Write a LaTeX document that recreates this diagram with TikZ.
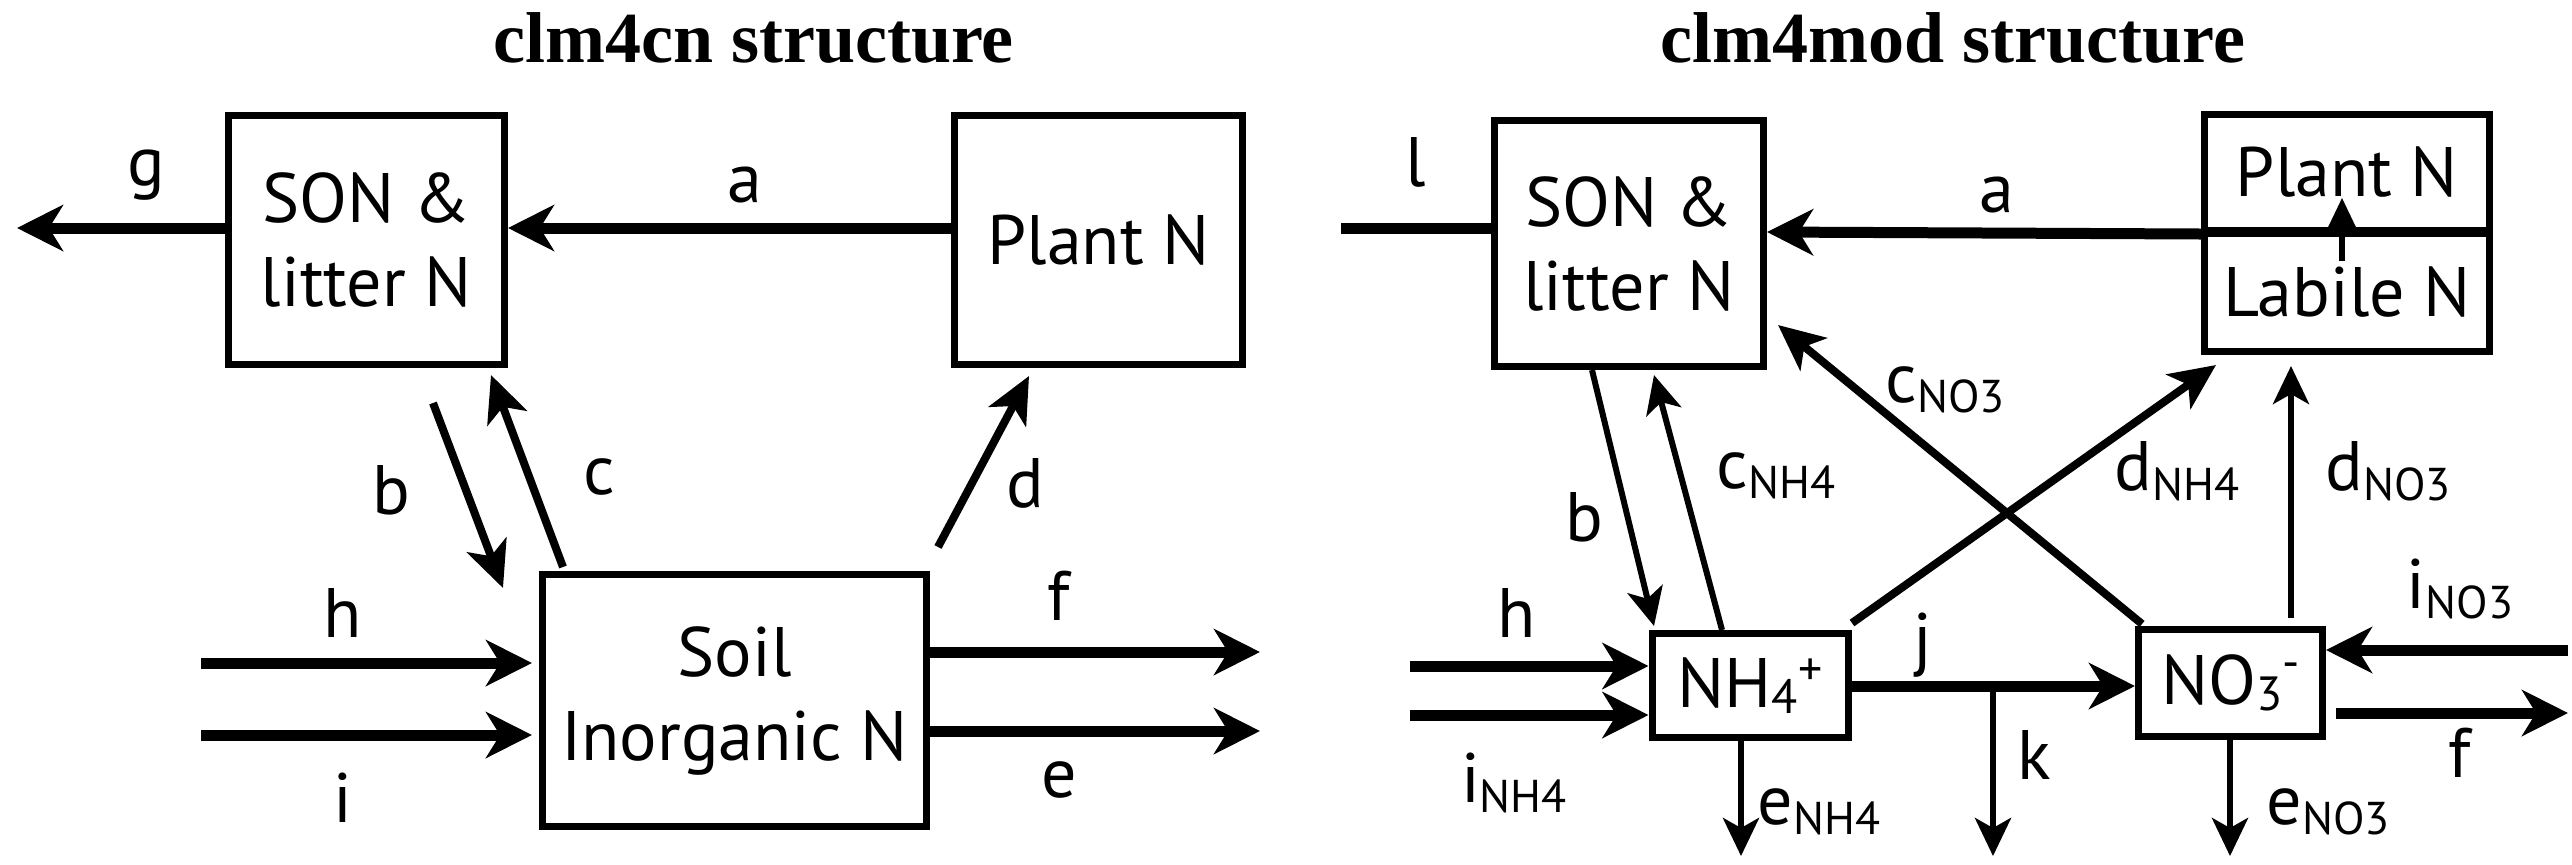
\documentclass[tikz,border=0pt]{standalone}
\usepackage{fontspec}
\setmainfont{PT Sans}
\newfontfamily\titlefont{Liberation Serif}
\usetikzlibrary{arrows.meta}
\newcommand{\sublab}[2]{#1\raisebox{-5pt}{\fontsize{23}{23}\selectfont #2}}
\tikzset{
  box/.style={draw, line width=3.5pt, inner sep=0pt, align=center, font=\fontsize{35}{42}\selectfont},
  lab/.style={inner sep=0pt, font=\fontsize{35}{40}\selectfont},
  ttl/.style={inner sep=0pt, anchor=base, font=\titlefont\bfseries\fontsize{36}{42}\selectfont},
  fatarrow/.style={line width=5.5pt, -{Stealth[length=23pt,width=23pt,inset=7pt]}},
  midarrow/.style={line width=4pt, -{Stealth[length=23pt,width=21pt,inset=6pt]}},
  thinarrow/.style={line width=3pt, -{Stealth[length=19pt,width=18pt,inset=5pt]}},
  fatline/.style={line width=5.5pt},
}
\begin{document}
\begin{tikzpicture}[x=0.5pt,y=-0.5pt]
\useasboundingbox (0,0) rectangle (2572,864);
% titles
\node[ttl] (t1) at (753.5,62) {clm4cn structure};
\node[ttl] (t2) at (1953,62) {clm4mod structure};
% ---------- left panel ----------
\node[box, minimum width=138pt, minimum height=124.5pt] (son) at (366.5,240) {SON \&\\litter N};
\node[box, minimum width=144pt, minimum height=124.5pt] (plant) at (1098.5,240) {Plant N};
\node[box, minimum width=192pt, minimum height=126pt] (soil) at (734.5,700.5) {Soil\\Inorganic N};
\coordinate (ya) at (0,228);
\draw[fatarrow] (plant.west |- ya) -- (son.east |- ya);
\coordinate (gEnd) at (17,228);
\draw[fatarrow] (son.west |- gEnd) -- (gEnd);
\coordinate (b1) at (433,403); \coordinate (b2) at (503,588);
\draw[midarrow] (b1) -- (b2);
\coordinate (c1) at (563,567); \coordinate (c2) at (491,375);
\draw[midarrow] (c1) -- (c2);
\coordinate (d1) at (938,547); \coordinate (d2) at (1029,376);
\draw[midarrow] (d1) -- (d2);
\coordinate (h1) at (201,663); \coordinate (h2) at (532,663);
\draw[fatarrow] (h1) -- (h2);
\coordinate (i1) at (201,735); \coordinate (i2) at (532,735);
\draw[fatarrow] (i1) -- (i2);
\coordinate (f2) at (1260,652);
\draw[fatarrow] (soil.east |- f2) -- (f2);
\coordinate (e2) at (1260,731);
\draw[fatarrow] (soil.east |- e2) -- (e2);
\node[lab] (la) at (745,185) {a};
\node[lab] (lg) at (146,175) {g};
\node[lab] (lb) at (391,490) {b};
\node[lab] (lc) at (599,477) {c};
\node[lab] (ld) at (1025,483) {d};
\node[lab] (lh) at (343,613) {h};
\node[lab] (li) at (343,798) {i};
\node[lab] (lf) at (1059,596) {f};
\node[lab] (le) at (1059,780) {e};
% ---------- right panel ----------
\node[box, minimum width=134.5pt, minimum height=123pt] (son2) at (1629,243.5) {SON \&\\litter N};
\node[box, minimum width=142.5pt, minimum height=58pt] (plant2) at (2347,172.5) {Plant N};
\node[box, minimum width=142.5pt, minimum height=59pt] (labile) at (2347,292.5) {Labile N};
\node[box, minimum width=98pt, minimum height=52pt] (nh4) at (1750,685.5)
  {NH\raisebox{-3pt}{\fontsize{24}{24}\selectfont 4}\raisebox{11pt}{\fontsize{24}{24}\selectfont +}};
\node[box, minimum width=92pt, minimum height=53.5pt] (no3) at (2230.5,683)
  {NO\raisebox{-3pt}{\fontsize{24}{24}\selectfont 3}\raisebox{13pt}{\fontsize{24}{24}\selectfont -}};
\coordinate (lEnd) at (1341,228);
\draw[fatline] (lEnd) -- (son2.west |- lEnd);
\coordinate (ya2) at (0,232);
\draw[fatarrow] (plant2.south west) -- (son2.east |- ya2);
\coordinate (in1) at (2342,261); \coordinate (in2) at (2342,198);
\draw[thinarrow] (in1) -- (in2);
\coordinate (rb1) at (1592,370); \coordinate (rb2) at (1654,626);
\draw[thinarrow] (rb1) -- (rb2);
\coordinate (cn1) at (1722,630); \coordinate (cn2) at (1654,375);
\draw[thinarrow] (cn1) -- (cn2);
\coordinate (co1) at (2142,624); \coordinate (co2) at (1778,325);
\draw[midarrow] (co1) -- (co2);
\coordinate (dn1) at (1852,623); \coordinate (dn2) at (2216,365);
\draw[midarrow] (dn1) -- (dn2);
\coordinate (do1) at (2291,618); \coordinate (do2) at (2291,366);
\draw[thinarrow] (do1) -- (do2);
\coordinate (rh1) at (1410,666);
\draw[fatarrow] (rh1) -- (nh4.west |- rh1);
\coordinate (ri1) at (1410,715);
\draw[fatarrow] (ri1) -- (nh4.west |- ri1);
\coordinate (yj) at (0,686);
\draw[fatarrow] (nh4.east |- yj) -- (no3.west |- yj);
\coordinate (k1) at (1993,686); \coordinate (k2) at (1993,856);
\draw[thinarrow] (k1) -- (k2);
\coordinate (en2) at (1741,856);
\draw[thinarrow] (nh4.south -| en2) -- (en2);
\coordinate (eo2) at (2230,856);
\draw[thinarrow] (no3.south -| eo2) -- (eo2);
\coordinate (io1) at (2568,650);
\draw[fatarrow] (io1) -- (no3.east |- io1);
\coordinate (rf1) at (2336,713); \coordinate (rf2) at (2568,713);
\draw[fatarrow] (rf1) -- (rf2);
\node[lab] (rla) at (1997,195) {a};
\node[lab] (rll) at (1416,162) {l};
\node[lab] (rlb) at (1584,517) {b};
\node[lab] (rlcn) at (1776,476) {\sublab{c}{NH4}};
\node[lab] (rlco) at (1945,390) {\sublab{c}{NO3}};
\node[lab] (rldn) at (2177,471) {\sublab{d}{NH4}};
\node[lab] (rldo) at (2388,471) {\sublab{d}{NO3}};
\node[lab] (rlh) at (1517,613) {h};
\node[lab] (rlin) at (1514,783) {\sublab{i}{NH4}};
\node[lab] (rlj) at (1923,645) {j};
\node[lab] (rlk) at (2034,755) {k};
\node[lab] (rlen) at (1819,812) {\sublab{e}{NH4}};
\node[lab] (rleo) at (2328,812) {\sublab{e}{NO3}};
\node[lab] (rlio) at (2460,589) {\sublab{i}{NO3}};
\node[lab] (rlf) at (2460,753) {f};
\end{tikzpicture}
\end{document}
